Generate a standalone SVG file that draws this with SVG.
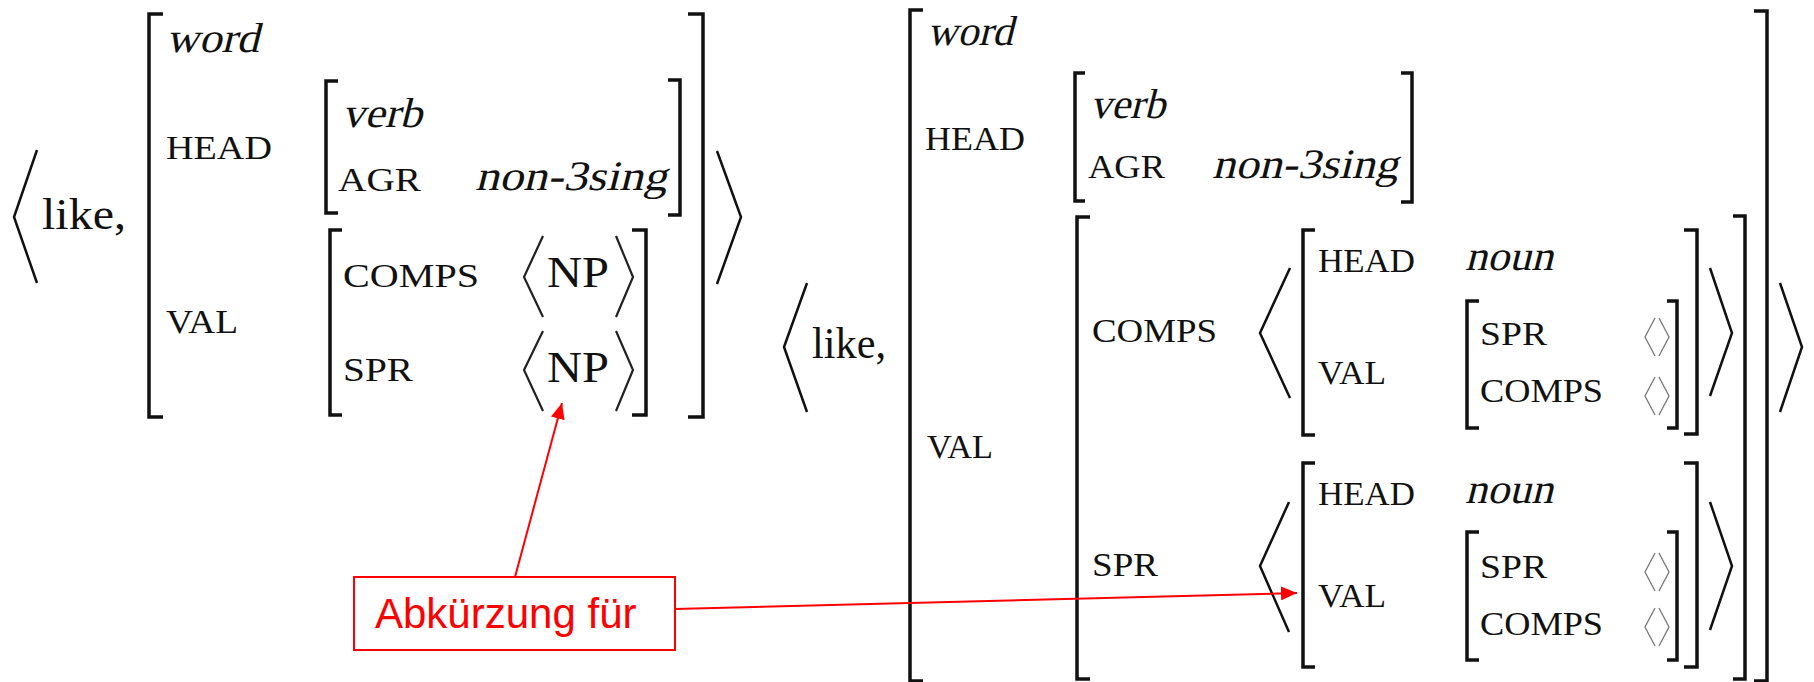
<svg xmlns="http://www.w3.org/2000/svg" width="1814" height="682" viewBox="0 0 1814 682">
  <style>
    .br { fill: none; stroke: #111; stroke-width: 3.5; }
    .ang { fill: none; stroke: #111; stroke-width: 2.5; stroke-linejoin: miter; }
    .ang-s { fill: none; stroke: #777; stroke-width: 1.3; }
    .ang-np { fill: none; stroke: #222; stroke-width: 2.2; }
    .feat { font-family: "Liberation Serif", "Times New Roman", serif; font-size: 34px; fill: #111; }
    .val { font-family: "Liberation Serif", "Times New Roman", serif; font-size: 42px; fill: #111; }
    .word { font-family: "Liberation Serif", "Times New Roman", serif; font-size: 45px; fill: #111; }
    .note { font-family: "Liberation Sans", Arial, sans-serif; font-size: 42px; fill: #ff0000; }
    .link { fill: none; stroke: #ff0000; stroke-width: 2; }
  </style>
  <defs>
    <marker id="arrow" viewBox="0 0 16 14" markerWidth="16" markerHeight="14" refX="16" refY="7" orient="auto" markerUnits="userSpaceOnUse">
      <path d="M0,0 L16,7 L0,14 z" fill="#ff0000"/>
    </marker>
  </defs>
  <rect width="1814" height="682" fill="#ffffff"/>

  <!-- abbreviated entry: <like, [word HEAD .. VAL ..]> -->
  <g id="avm-short">
    <polyline class="ang" points="37,150 14,217 37,283"/>
    <text class="word" x="42" y="229" textLength="84" lengthAdjust="spacingAndGlyphs">like,</text>
    <path class="br" d="M163,14 H149 V417 H163"/>
    <g transform="translate(166,52) skewX(-14)"><text class="val" textLength="93" lengthAdjust="spacingAndGlyphs">word</text></g>
    <text class="feat" x="166" y="159" textLength="106" lengthAdjust="spacingAndGlyphs">HEAD</text>
    <text class="feat" x="166" y="333" textLength="72" lengthAdjust="spacingAndGlyphs">VAL</text>
    <!-- HEAD value -->
    <path class="br" d="M338,81 H326 V213 H338"/>
    <g transform="translate(342,127) skewX(-14)"><text class="val" textLength="80" lengthAdjust="spacingAndGlyphs">verb</text></g>
    <text class="feat" x="338" y="191" textLength="83" lengthAdjust="spacingAndGlyphs">AGR</text>
    <g transform="translate(475,190) skewX(-14)"><text class="val" textLength="192" lengthAdjust="spacingAndGlyphs">non-3sing</text></g>
    <path class="br" d="M668,80 H680 V215 H668"/>
    <!-- VAL value -->
    <path class="br" d="M342,230 H330 V415 H342"/>
    <text class="feat" x="343" y="287" textLength="136" lengthAdjust="spacingAndGlyphs">COMPS</text>
    <text class="feat" x="343" y="381" textLength="70" lengthAdjust="spacingAndGlyphs">SPR</text>
    <polyline class="ang-np" points="543,236 524,277 543,317"/>
    <text class="word" x="547" y="287" font-size="44" textLength="62" lengthAdjust="spacingAndGlyphs">NP</text>
    <polyline class="ang-np" points="616,236 633,277 616,317"/>
    <polyline class="ang-np" points="543,331 524,370 543,411"/>
    <text class="word" x="547" y="382" font-size="44" textLength="62" lengthAdjust="spacingAndGlyphs">NP</text>
    <polyline class="ang-np" points="616,331 633,370 616,411"/>
    <path class="br" d="M632,230 H646 V415 H632"/>
    <path class="br" d="M688,14 H703 V417 H688"/>
    <polyline class="ang" points="717,151 741,217 717,284"/>
  </g>

  <!-- full entry with NP spelled out -->
  <g id="avm-full">
    <polyline class="ang" points="807,283 784,347 807,412"/>
    <text class="word" x="812" y="358" textLength="74" lengthAdjust="spacingAndGlyphs">like,</text>
    <path class="br" d="M923,10 H910 V681 H923"/>
    <g transform="translate(927,45) skewX(-14)"><text class="val" textLength="86" lengthAdjust="spacingAndGlyphs">word</text></g>
    <text class="feat" x="925" y="150" textLength="100" lengthAdjust="spacingAndGlyphs">HEAD</text>
    <text class="feat" x="927" y="458" textLength="66" lengthAdjust="spacingAndGlyphs">VAL</text>
    <!-- HEAD value -->
    <path class="br" d="M1085,73 H1075 V201 H1085"/>
    <g transform="translate(1090,118) skewX(-14)"><text class="val" textLength="75" lengthAdjust="spacingAndGlyphs">verb</text></g>
    <text class="feat" x="1088" y="178" textLength="77" lengthAdjust="spacingAndGlyphs">AGR</text>
    <g transform="translate(1212,178) skewX(-14)"><text class="val" textLength="186" lengthAdjust="spacingAndGlyphs">non-3sing</text></g>
    <path class="br" d="M1401,73 H1412 V202 H1401"/>
    <!-- VAL value -->
    <path class="br" d="M1090,217 H1077 V679 H1090"/>
    <text class="feat" x="1092" y="342" textLength="125" lengthAdjust="spacingAndGlyphs">COMPS</text>
    <text class="feat" x="1092" y="576" textLength="66" lengthAdjust="spacingAndGlyphs">SPR</text>

    <!-- COMPS list -->
    <g id="comps-np">
      <polyline class="ang" points="1290,268 1260,333 1290,398"/>
      <path class="br" d="M1315,230 H1303 V435 H1315"/>
      <text class="feat" x="1318" y="272" textLength="97" lengthAdjust="spacingAndGlyphs">HEAD</text>
      <g transform="translate(1465,270) skewX(-14)"><text class="val" textLength="88" lengthAdjust="spacingAndGlyphs">noun</text></g>
      <text class="feat" x="1318" y="384" textLength="68" lengthAdjust="spacingAndGlyphs">VAL</text>
      <path class="br" d="M1479,301 H1467 V428 H1479"/>
      <text class="feat" x="1480" y="345" textLength="67" lengthAdjust="spacingAndGlyphs">SPR</text>
      <text class="feat" x="1480" y="402" textLength="123" lengthAdjust="spacingAndGlyphs">COMPS</text>
      <polyline class="ang-s" points="1655,318 1645,337 1655,356"/>
      <polyline class="ang-s" points="1659,318 1669,337 1659,356"/>
      <polyline class="ang-s" points="1655,377 1645,396 1655,415"/>
      <polyline class="ang-s" points="1659,377 1669,396 1659,415"/>
      <path class="br" d="M1667,301 H1677 V428 H1667"/>
      <path class="br" d="M1684,230 H1697 V434 H1684"/>
      <polyline class="ang" points="1710,268 1732,333 1710,396"/>
    </g>

    <!-- SPR list -->
    <g id="spr-np">
      <polyline class="ang" points="1289,502 1260,566 1289,632"/>
      <path class="br" d="M1315,463 H1303 V667 H1315"/>
      <text class="feat" x="1318" y="505" textLength="97" lengthAdjust="spacingAndGlyphs">HEAD</text>
      <g transform="translate(1465,503) skewX(-14)"><text class="val" textLength="88" lengthAdjust="spacingAndGlyphs">noun</text></g>
      <text class="feat" x="1318" y="607" textLength="68" lengthAdjust="spacingAndGlyphs">VAL</text>
      <path class="br" d="M1479,532 H1467 V660 H1479"/>
      <text class="feat" x="1480" y="578" textLength="67" lengthAdjust="spacingAndGlyphs">SPR</text>
      <text class="feat" x="1480" y="635" textLength="123" lengthAdjust="spacingAndGlyphs">COMPS</text>
      <polyline class="ang-s" points="1655,553 1645,572 1655,591"/>
      <polyline class="ang-s" points="1659,553 1669,572 1659,591"/>
      <polyline class="ang-s" points="1655,608 1645,627 1655,646"/>
      <polyline class="ang-s" points="1659,608 1669,627 1659,646"/>
      <path class="br" d="M1667,532 H1677 V660 H1667"/>
      <path class="br" d="M1684,463 H1697 V667 H1684"/>
      <polyline class="ang" points="1710,502 1732,566 1710,630"/>
    </g>

    <path class="br" d="M1733,216 H1745 V679 H1733"/>
    <path class="br" d="M1754,11 H1767 V681 H1754"/>
    <polyline class="ang" points="1780,283 1802,347 1780,412"/>
  </g>

  <!-- annotation box -->
  <g id="note-box">
    <rect x="354" y="577" width="321" height="73" fill="#ffffff" stroke="#ff0000" stroke-width="2"/>
    <text class="note" x="375" y="628">Abkürzung für</text>
  </g>

  <!-- arrows from the annotation -->
  <g id="connectors">
    <line class="link" x1="515" y1="577" x2="562" y2="403" marker-end="url(#arrow)"/>
    <line class="link" x1="675" y1="609" x2="1297" y2="593" marker-end="url(#arrow)"/>
  </g>
</svg>
